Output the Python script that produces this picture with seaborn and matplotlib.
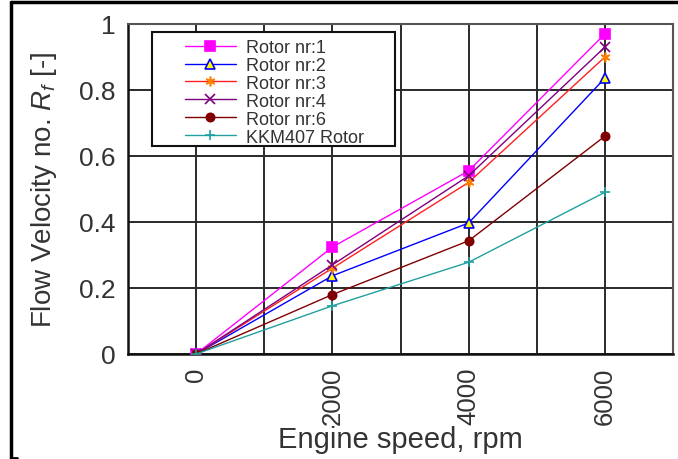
import matplotlib
matplotlib.use("Agg")
import matplotlib.pyplot as plt
import seaborn as sns
import pandas as pd
from matplotlib.patches import Rectangle
from matplotlib.lines import Line2D

speed = [0, 2000, 4000, 6000]
rotor1 = [0.0, 0.324, 0.555, 0.97]
rotor2 = [0.0, 0.237, 0.397, 0.836]
rotor3 = [0.0, 0.26, 0.52, 0.90]
rotor4 = [0.0, 0.27, 0.54, 0.93]
rotor6 = [0.0, 0.18, 0.343, 0.66]
kkm407 = [0.0, 0.146, 0.278, 0.49]
labels = ["Rotor nr:1", "Rotor nr:2", "Rotor nr:3", "Rotor nr:4", "Rotor nr:6", "KKM407 Rotor"]
xtick_vals = [0, 1000, 2000, 3000, 4000, 5000, 6000, 7000]
xtick_labels = ["0", "", "2000", "", "4000", "", "6000", ""]
ytick_vals = [0, 0.2, 0.4, 0.6, 0.8, 1.0]
ytick_labels = ["0", "0.2", "0.4", "0.6", "0.8", "1"]

series = [rotor1, rotor2, rotor3, rotor4, rotor6, kkm407]
df = pd.concat([pd.DataFrame({"speed": speed, "value": s, "rotor": lab})
                for s, lab in zip(series, labels)], ignore_index=True)

sns.set_style("white")
plt.rcParams["font.family"] = ["Liberation Sans", "DejaVu Sans"]
plt.rcParams["mathtext.fontset"] = "custom"
plt.rcParams["mathtext.rm"] = "Liberation Sans"
plt.rcParams["mathtext.it"] = "Liberation Sans:italic"
txt = "#333333"

fig = plt.figure(figsize=(6.78, 4.60), dpi=100)
fig.patch.set_facecolor("white")
ax = fig.add_axes([128/678, 1-355/460, (673-128)/678, 330/460])

styles = [
    dict(color="#FF00FF", marker="s", ms=7, mfc="#FF00FF", mec="#FF00FF"),
    dict(color="#0000FF", marker="^", ms=7, mfc="#FFFF00", mec="#0000FF"),
    dict(color="#FF2020", marker=(6, 2, 0), ms=7, mfc="#FF8000", mec="#FF8000"),
    dict(color="#800080", marker="x", ms=7, mfc="#800080", mec="#800080"),
    dict(color="#800000", marker="o", ms=6, mfc="#800000", mec="#800000"),
    dict(color="#20A0A0", marker="+", ms=7, mfc="#20A0A0", mec="#20A0A0"),
]
for lab, st in zip(labels, styles):
    sub = df[df["rotor"] == lab]
    sns.lineplot(data=sub, x="speed", y="value", ax=ax, label=lab,
                 color=st["color"], marker=st["marker"], markersize=st["ms"],
                 markerfacecolor=st["mfc"], markeredgecolor=st["mec"],
                 markeredgewidth=1.2, linewidth=1.0, zorder=3)

ax.set_xlim(-1000, 7000)
ax.set_ylim(0, 1)
ax.set_xticks(xtick_vals)
ax.set_xticklabels(xtick_labels, rotation=90, fontsize=18.5, color=txt)
ax.set_yticks(ytick_vals)
ax.set_yticklabels(ytick_labels, fontsize=19, color=txt)
ax.tick_params(axis="both", direction="out", length=6, width=1.5, color="#111111", pad=3)
ax.tick_params(axis="x", pad=3)
ax.grid(True, color="#2a2a2a", linewidth=1.4)
ax.set_axisbelow(True)
for side in ["left", "bottom"]:
    ax.spines[side].set_color("#111111")
    ax.spines[side].set_linewidth(1.8)
for side in ["top", "right"]:
    ax.spines[side].set_color("#555555")
    ax.spines[side].set_linewidth(1.5)

ax.set_xlabel("Engine speed, rpm", fontsize=21, labelpad=1, color=txt)
ax.set_ylabel("Flow Velocity no. $R_f$ [-]", fontsize=20, labelpad=14, color=txt)

# legend box
ax.add_patch(Rectangle((24/545, (355-147)/330), (395-152)/545, (147-33)/330,
                       transform=ax.transAxes, facecolor="white",
                       edgecolor="#111111", linewidth=1.5, zorder=4))
leg = ax.legend(loc="upper left", bbox_to_anchor=((185-128)/545, (355-40)/330),
                frameon=False, fontsize=13, handlelength=2.8, handletextpad=0.6,
                labelspacing=0.05, borderpad=0, borderaxespad=0)
for t in leg.get_texts():
    t.set_color(txt)
leg.set_zorder(5)

# figure frame
fig.add_artist(Line2D([11/678, 1.0], [1-3/460, 1-3/460], transform=fig.transFigure,
                      color="black", linewidth=2.5))
fig.add_artist(Line2D([11/678, 11/678], [1-3/460, 1-459/460], transform=fig.transFigure,
                      color="black", linewidth=2.5))
fig.add_artist(Line2D([11/678, 17/678], [1-459/460, 1-459/460], transform=fig.transFigure,
                      color="black", linewidth=2.0))

fig.savefig("out.png", dpi=100, facecolor="white")
